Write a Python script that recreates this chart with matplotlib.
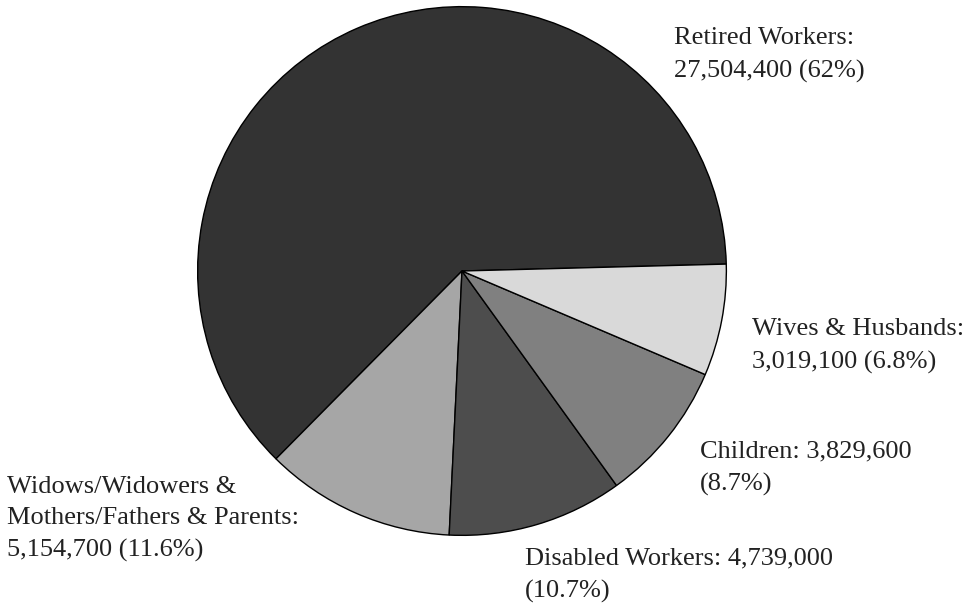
import matplotlib
matplotlib.use("Agg")
import matplotlib.pyplot as plt

categories = ["Retired Workers", "Widows/Widowers &\nMothers/Fathers & Parents",
              "Disabled Workers", "Children", "Wives & Husbands"]
values = [27504400, 5154700, 4739000, 3829600, 3019100]
percents = ["62%", "11.6%", "10.7%", "8.7%", "6.8%"]
colors = ["#333333", "#a6a6a6", "#4d4d4d", "#808080", "#d9d9d9"]

W, H = 972, 604
fig = plt.figure(figsize=(W / 100, H / 100), dpi=100)
cx, cy, r = 462, 271, 267
ax = fig.add_axes([(cx - r) / W, (H - cy - r) / H, 2 * r / W, 2 * r / H])
ax.pie(values, colors=colors, startangle=1.5, counterclock=True,
       wedgeprops=dict(edgecolor="black", linewidth=1.0), radius=1)
ax.set_xlim(-1.01, 1.01)
ax.set_ylim(-1.01, 1.01)
ax.set_aspect("equal")
ax.axis("off")

def fmt(v):
    return f"{v:,}"

labels = [
    f"{categories[0]}:\n{fmt(values[0])} ({percents[0]})",
    f"{categories[1]}:\n{fmt(values[1])} ({percents[1]})",
    f"{categories[2]}: {fmt(values[2])}\n({percents[2]})",
    f"{categories[3]}: {fmt(values[3])}\n({percents[3]})",
    f"{categories[4]}:\n{fmt(values[4])} ({percents[4]})",
]
# label anchor positions in pixels (left x, block centre y)
pos = [(674, 55), (7, 519), (525, 575), (700, 468), (752, 346)]
for lab, (x, y) in zip(labels, pos):
    fig.text(x / W, 1 - y / H, lab, ha="left", va="center",
             family="Liberation Serif", fontsize=19, color="#222222",
             linespacing=1.57)

fig.savefig("out.png", dpi=100, facecolor="white")
